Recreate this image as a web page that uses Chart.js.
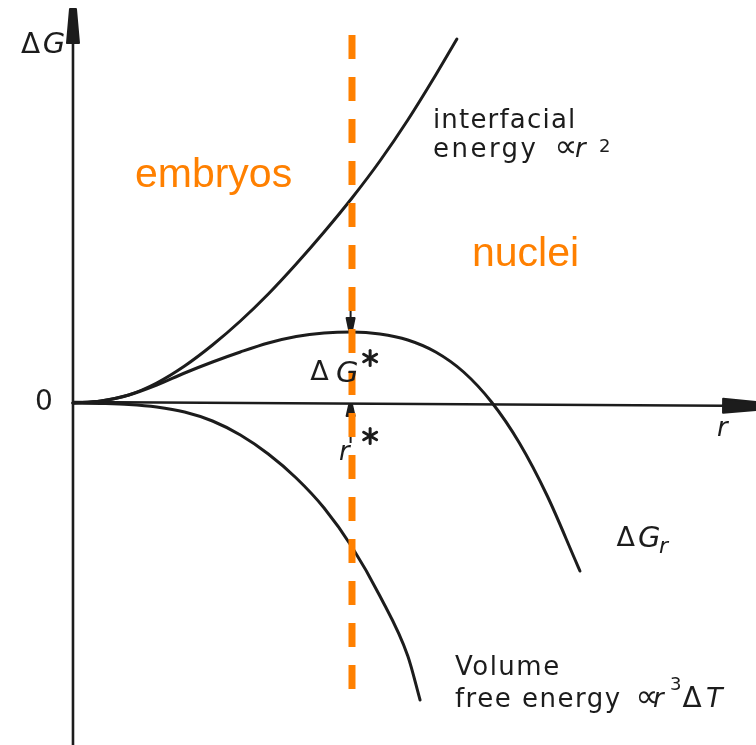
<!DOCTYPE html>
<html>
<head>
<meta charset="utf-8">
<title>Nucleation free energy</title>
<script src="https://cdn.jsdelivr.net/npm/chart.js@4.4.1/dist/chart.umd.min.js"></script>
<style>
    body { margin: 0; background: #fff; }
    canvas { display: block; }
</style>
</head>
<body>
<canvas id="chart" width="756" height="745"></canvas>
<script>
// radius r (r* = 1) and free energy change for each curve
const interfacialR = [0, 0.1, 0.2, 0.3, 0.4, 0.5, 0.6, 0.7, 0.8, 0.9, 1.0, 1.1, 1.2, 1.3, 1.376];
const interfacialG = [0, 0.02, 0.08, 0.20, 0.37, 0.58, 0.82, 1.09, 1.39, 1.71, 2.05, 2.42, 2.83, 3.28, 3.64];

const totalR = [0, 0.1, 0.2, 0.3, 0.4, 0.5, 0.6, 0.7, 0.8, 0.9, 1.0, 1.1, 1.2, 1.3, 1.4, 1.5, 1.6, 1.7, 1.8, 1.817];
const totalG = [0, 0.02, 0.08, 0.18, 0.30, 0.41, 0.51, 0.60, 0.665, 0.70, 0.71, 0.69, 0.63, 0.51, 0.31, 0.01, -0.40, -0.93, -1.57, -1.68];

const volumeR = [0, 0.1, 0.2, 0.3, 0.4, 0.5, 0.6, 0.7, 0.8, 0.9, 1.0, 1.1, 1.2, 1.244];
const volumeG = [0, -0.005, -0.015, -0.04, -0.09, -0.18, -0.32, -0.51, -0.75, -1.05, -1.44, -1.93, -2.53, -2.97];

// critical radius marker (dashed line between these G values)
const criticalR = 1.0;
const criticalSpan = [3.68, -2.87];

const INK = "#1c1c1c";
const ORANGE = "#ff8000";

// turn two arrays into {x, y} points
function toPoints(xs, ys) {
    return xs.map((x, i) => ({ x: x, y: ys[i] }));
}

function curve(xs, ys) {
    return {
        data: toPoints(xs, ys),
        showLine: true,
        borderColor: INK,
        borderWidth: 3,
        pointRadius: 0,
        cubicInterpolationMode: "monotone",
        borderCapStyle: "round"
    };
}

// filled, tapered arrow head from base to tip
function arrowHead(ctx, bx, by, tx, ty, wBase, wTip) {
    let dx = tx - bx, dy = ty - by;
    let len = Math.hypot(dx, dy);
    let nx = -dy / len, ny = dx / len;
    ctx.beginPath();
    ctx.moveTo(bx + nx * wBase / 2, by + ny * wBase / 2);
    ctx.lineTo(tx + nx * wTip / 2, ty + ny * wTip / 2);
    ctx.lineTo(tx - nx * wTip / 2, ty - ny * wTip / 2);
    ctx.lineTo(bx - nx * wBase / 2, by - ny * wBase / 2);
    ctx.closePath();
    ctx.lineJoin = "round";
    ctx.lineWidth = 2;
    ctx.fill();
    ctx.stroke();
}

// six-spoke star used for the * superscripts
function star(ctx, cx, cy, r) {
    ctx.lineWidth = 3;
    ctx.lineCap = "round";
    for (let k = 0; k < 3; k++) {
        let a = Math.PI / 2 + k * Math.PI / 3;
        ctx.beginPath();
        ctx.moveTo(cx + Math.cos(a) * r, cy + Math.sin(a) * r);
        ctx.lineTo(cx - Math.cos(a) * r, cy - Math.sin(a) * r);
        ctx.stroke();
    }
}

const SANS = "'DejaVu Sans', sans-serif";
const SANS_I = "italic ";
const ARIAL = "41px 'Liberation Sans', Arial, sans-serif";

// text pieces: [text, r, G, font, colour, letter spacing]
const labels = [
    ["\u0394", -0.186, 3.50, "28px " + SANS, INK, 0],
    ["G", -0.108, 3.50, SANS_I + "29px " + SANS, INK, 0],
    ["0", -0.136, -0.07, "28px " + SANS, INK, 0],
    ["interfacial", 1.290, 2.75, "26px " + SANS, INK, 1.2],
    ["energy", 1.290, 2.46, "26px " + SANS, INK, 2.5],
    ["\u221D", 1.726, 2.46, "32px " + SANS, INK, 0],
    ["r", 1.799, 2.46, SANS_I + "26px " + SANS, INK, 0],
    ["2", 1.885, 2.51, "18px " + SANS, INK, 0],
    ["embryos", 0.222, 2.16, ARIAL, ORANGE, 0],
    ["nuclei", 1.430, 1.37, ARIAL, ORANGE, 0],
    ["\u0394", 0.850, 0.23, "27px " + SANS, INK, 0],
    ["G", 0.943, 0.21, SANS_I + "29px " + SANS, INK, 0],
    ["r", 0.953, -0.57, SANS_I + "26px " + SANS, INK, 0],
    ["r", 2.308, -0.33, SANS_I + "26px " + SANS, INK, 0],
    ["\u0394", 1.948, -1.43, "27px " + SANS, INK, 0],
    ["G", 2.025, -1.44, SANS_I + "29px " + SANS, INK, 0],
    ["r", 2.100, -1.50, SANS_I + "22px " + SANS, INK, 0],
    ["Volume", 1.369, -2.72, "26px " + SANS, INK, 1.5],
    ["free energy", 1.369, -3.04, "26px " + SANS, INK, 1.5],
    ["\u221D", 2.016, -3.04, "32px " + SANS, INK, 0],
    ["r", 2.079, -3.04, SANS_I + "26px " + SANS, INK, 0],
    ["3", 2.140, -2.87, "18px " + SANS, INK, 0],
    ["\u0394", 2.185, -3.04, "28px " + SANS, INK, 0],
    ["T", 2.269, -3.04, SANS_I + "27px " + SANS, INK, 0]
];

// axes, arrows and labels drawn with the chart's own scales
const sketchPlugin = {
    id: "sketch",
    beforeDatasetsDraw(chart) {
        let ctx = chart.ctx;
        let sx = chart.scales.x, sy = chart.scales.y;
        let X = v => sx.getPixelForValue(v);
        let Y = v => sy.getPixelForValue(v);
        ctx.save();
        ctx.strokeStyle = INK;
        ctx.fillStyle = INK;

        // vertical G axis
        ctx.lineWidth = 2.6;
        ctx.beginPath();
        ctx.moveTo(X(0), Y(sy.min));
        ctx.lineTo(X(0), Y(3.60));
        ctx.stroke();
        arrowHead(ctx, X(0), Y(3.60), X(0), Y(3.94), 12, 6);

        // horizontal r axis
        ctx.lineWidth = 2.4;
        ctx.beginPath();
        ctx.moveTo(X(0), Y(0.01));
        ctx.lineTo(X(2.33), Y(-0.028));
        ctx.stroke();
        arrowHead(ctx, X(2.33), Y(-0.028), X(sx.max), Y(-0.03), 14, 8);

        // arrow down onto the maximum
        ctx.lineWidth = 2;
        ctx.beginPath();
        ctx.moveTo(X(0.995), Y(1.13));
        ctx.lineTo(X(0.995), Y(0.85));
        ctx.stroke();
        arrowHead(ctx, X(0.995), Y(0.85), X(0.995), Y(0.73), 8, 3);

        // arrow up onto the r axis
        ctx.lineWidth = 2;
        ctx.beginPath();
        ctx.moveTo(X(0.995), Y(-0.40));
        ctx.lineTo(X(0.995), Y(-0.13));
        ctx.stroke();
        arrowHead(ctx, X(0.995), Y(-0.13), X(0.995), Y(-0.02), 8, 3);
        ctx.restore();
    },
    afterDatasetsDraw(chart) {
        let ctx = chart.ctx;
        let sx = chart.scales.x, sy = chart.scales.y;
        ctx.save();
        ctx.textBaseline = "alphabetic";
        ctx.textAlign = "left";
        labels.forEach(l => {
            ctx.font = l[3];
            ctx.fillStyle = l[4];
            ctx.letterSpacing = l[5] + "px";
            ctx.fillText(l[0], sx.getPixelForValue(l[1]), sy.getPixelForValue(l[2]));
        });
        ctx.strokeStyle = INK;
        star(ctx, sx.getPixelForValue(1.065), sy.getPixelForValue(0.45), 7.5);
        star(ctx, sx.getPixelForValue(1.065), sy.getPixelForValue(-0.33), 7.5);
        ctx.restore();
    }
};

let context = document.getElementById("chart").getContext("2d");
new Chart(context, {
    type: "scatter",
    data: {
        datasets: [
            {
                // dashed r* line, first so it sits on top
                data: criticalSpan.map(g => ({ x: criticalR, y: g })),
                showLine: true,
                borderColor: ORANGE,
                borderWidth: 7,
                borderDash: [24, 18],
                borderCapStyle: "butt",
                pointRadius: 0
            },
            curve(interfacialR, interfacialG),
            curve(totalR, totalG),
            curve(volumeR, volumeG)
        ]
    },
    options: {
        responsive: false,
        animation: false,
        devicePixelRatio: 1,
        layout: { padding: 0 },
        scales: {
            x: { type: "linear", display: false, min: -0.2616, max: 2.448 },
            y: { type: "linear", display: false, min: -3.42, max: 4.03 }
        },
        plugins: {
            legend: { display: false },
            tooltip: { enabled: false }
        }
    },
    plugins: [sketchPlugin]
});
</script>
</body>
</html>
